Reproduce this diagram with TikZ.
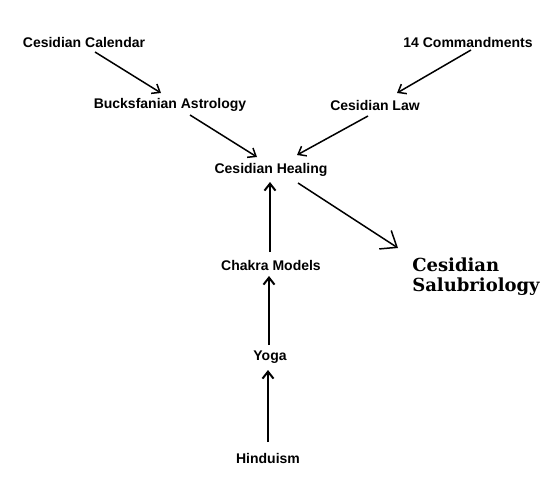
\documentclass[tikz,border=0pt]{standalone}
\usepackage{fontspec}
\setmainfont{Liberation Sans}
\newfontfamily\salubfont{DejaVu Serif}
\usepackage{tikz}
\usetikzlibrary{arrows.meta,positioning}

\begin{document}
\begin{tikzpicture}[x=1pt,y=-1pt]
    \tikzset{vertex/.style = {inner sep=0pt,font=\bfseries\fontsize{14}{16}\selectfont}}
    \tikzset{edge/.style = {-{Straight Barb[length=7pt,width=11pt]},line width=1.5pt}}
    \useasboundingbox[fill=white] (0,0) rectangle (557,480);
    % vertices
    \node[vertex] (cal)    at (84,42)   {Cesidian Calendar};
    \node[vertex] (cmd)    at (468,42)  {14 Commandments};
    \node[vertex] (buck)   at (170,105) {Bucksfanian Astrology};
    \node[vertex] (law)    at (375,105) {Cesidian Law};
    \node[vertex] (heal)   at (271,170) {Cesidian Healing};
    \node[vertex] (chakra) at (271,265) {Chakra Models};
    \node[vertex] (yoga)   at (270,357) {Yoga};
    \node[vertex] (hindu)  at (268,458) {Hinduism};
    \node[align=left,inner sep=0pt,font=\salubfont\bfseries\fontsize{18}{20}\selectfont]
        (salub) at (476,277) {Cesidian\\Salubriology};
    % edges
    \draw[edge] ([shift={(11,10)}]cal.center) -- ([shift={(-9,-12)}]buck.center);
    \draw[edge] ([shift={(3,8)}]cmd.center) -- ([shift={(22,-12)}]law.center);
    \draw[edge] ([shift={(20,10)}]buck.center) -- ([shift={(-14,-13)}]heal.center);
    \draw[edge] ([shift={(-7,11)}]law.center) -- ([shift={(26,-15)}]heal.center);
    \draw[edge,-{Straight Barb[length=14pt,width=22pt]}] ([shift={(27,13)}]heal.center) -- ([shift={(-78,-29)}]salub.center);
    \draw[edge,line width=2pt] ([shift={(-1,-13)}]chakra.center) -- ([shift={(-1,12)}]heal.center);
    \draw[edge,line width=2pt] ([shift={(-1,-12)}]yoga.center) -- ([shift={(-2,11)}]chakra.center);
    \draw[edge,line width=2pt] ([shift={(0,-16)}]hindu.center) -- ([shift={(-2,13)}]yoga.center);
\end{tikzpicture}
\end{document}
